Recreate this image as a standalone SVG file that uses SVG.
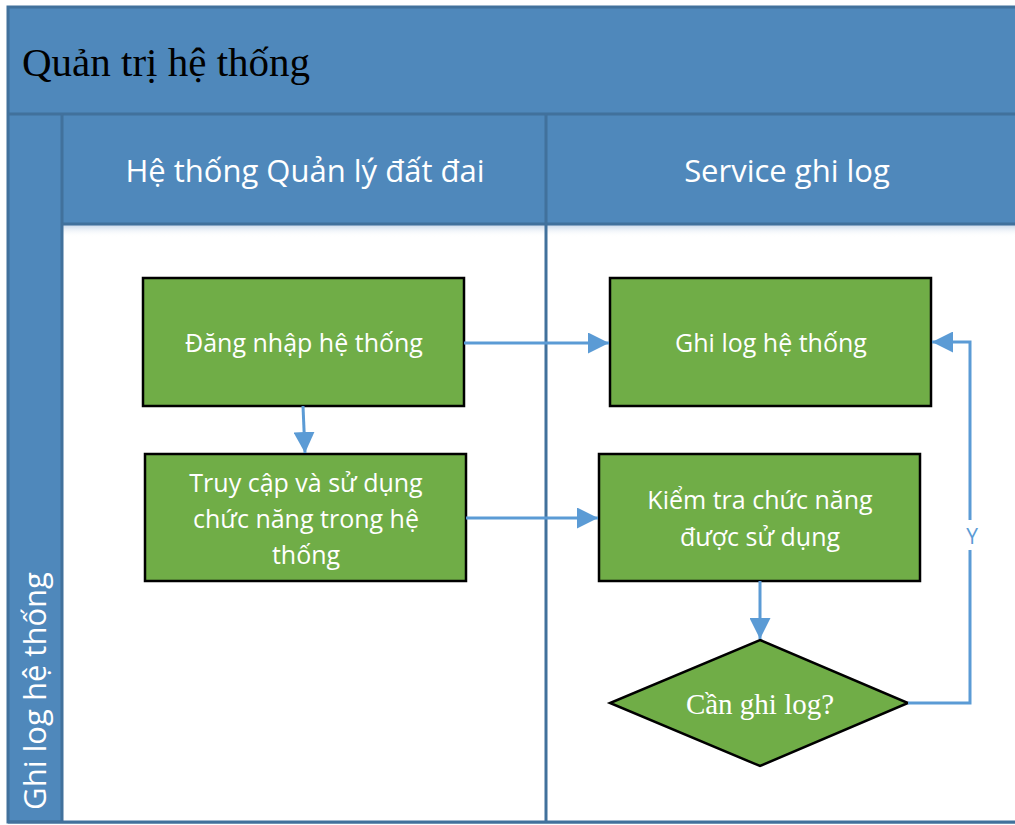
<svg xmlns="http://www.w3.org/2000/svg" width="1015" height="825" viewBox="0 0 1015 825">
<style>
.band{fill:#4F88BB;stroke:#41719C;stroke-width:3}
.box{fill:#70AD47;stroke:#000;stroke-width:2.5}
.lbl{font-family:"Open Sans","Noto Sans",sans-serif;fill:#fff;text-anchor:middle}
.bt{font-size:25px}
.conn{fill:none;stroke:#5B9BD5;stroke-width:3}
</style>
<defs>
<marker id="ah" viewBox="0 0 10 10" refX="10" refY="5" markerWidth="7" markerHeight="7" markerUnits="strokeWidth" orient="auto">
<path d="M0,0 L10,5 L0,10 z" fill="#5B9BD5"/>
</marker>
<linearGradient id="sh" x1="0" y1="0" x2="0" y2="1">
<stop offset="0" stop-color="#C9D8EA"/>
<stop offset="1" stop-color="#fff" stop-opacity="0"/>
</linearGradient>
</defs>
<rect width="1015" height="825" fill="#fff"/>
<g id="pool">
<rect class="band" x="8" y="7" width="1012" height="815"/>
<rect x="62" y="224" width="960" height="598" fill="#fff"/>
<rect x="62" y="225" width="960" height="12" fill="url(#sh)"/>
<line x1="8" y1="114" x2="1020" y2="114" stroke="#41719C" stroke-width="3"/>
<line x1="62" y1="114" x2="62" y2="822" stroke="#41719C" stroke-width="3"/>
<line x1="62" y1="224" x2="1020" y2="224" stroke="#41719C" stroke-width="3"/>
<line x1="546" y1="114" x2="546" y2="822" stroke="#41719C" stroke-width="3"/>
<line x1="8" y1="822" x2="1020" y2="822" stroke="#41719C" stroke-width="3"/>
<text x="22" y="76" font-family="'Liberation Serif',serif" font-size="41" fill="#000">Quản trị hệ thống</text>
<text class="lbl" x="305" y="182" font-size="31">Hệ thống Quản lý đất đai</text>
<text class="lbl" x="787" y="182" font-size="31">Service ghi log</text>
<text class="lbl" transform="translate(46,691) rotate(-90)" font-size="31">Ghi log hệ thống</text>
</g>
<g id="n1"><rect class="box" x="143" y="278" width="321" height="128"/>
<text class="lbl bt" x="304" y="352">Đăng nhập hệ thống</text></g>
<g id="n2"><rect class="box" x="145" y="454" width="321" height="127"/>
<text class="lbl bt" x="306" y="492">Truy cập và sử dụng</text>
<text class="lbl bt" x="306" y="528">chức năng trong hệ</text>
<text class="lbl bt" x="306" y="564">thống</text></g>
<g id="n3"><rect class="box" x="610" y="278" width="321" height="128"/>
<text class="lbl bt" x="771" y="352">Ghi log hệ thống</text></g>
<g id="n4"><rect class="box" x="599" y="454" width="321" height="127"/>
<text class="lbl bt" x="760" y="509">Kiểm tra chức năng</text>
<text class="lbl bt" x="760" y="546">được sử dụng</text></g>
<g id="n5"><polygon class="box" points="760,640 908,703 760,766 610,703" stroke-width="2"/>
<text x="760" y="714" font-family="'Liberation Serif',serif" font-size="29" fill="#fff" text-anchor="middle">Cần ghi log?</text></g>
<g id="connectors">
<line class="conn" x1="464" y1="343" x2="609" y2="343" marker-end="url(#ah)"/>
<line class="conn" x1="466" y1="518" x2="598" y2="518" marker-end="url(#ah)"/>
<line class="conn" x1="303" y1="406" x2="305" y2="453" marker-end="url(#ah)"/>
<line class="conn" x1="760" y1="581" x2="760" y2="639" marker-end="url(#ah)"/>
<polyline class="conn" points="908,703 970,703 970,342 932,342" marker-end="url(#ah)"/>
<rect x="961" y="520" width="18" height="30" fill="#fff"/>
<text x="972" y="544" font-family="'Open Sans',sans-serif" font-size="21" fill="#5B9BD5" text-anchor="middle">Y</text>
</g>
</svg>
